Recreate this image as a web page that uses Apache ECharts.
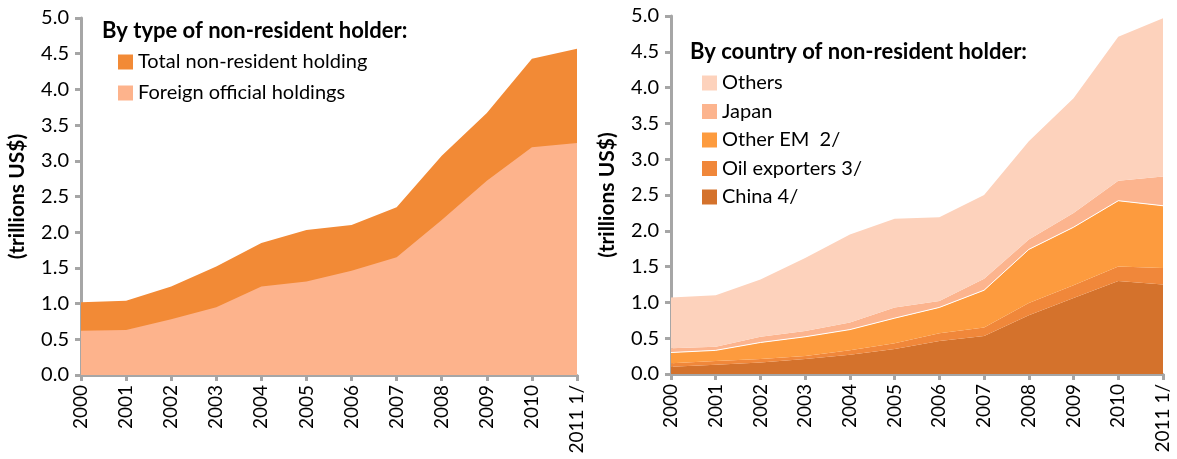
<!DOCTYPE html>
<html>
<head>
<meta charset="utf-8">
<script src="https://cdn.jsdelivr.net/npm/echarts@6/dist/echarts.min.js"></script>
<style>
  html, body { margin: 0; padding: 0; background: #fff; }
  #chart { width: 1177px; height: 459px; }
</style>
</head>
<body>
<div id="chart"></div>
<script>
// years on the x axis
const years = ['2000', '2001', '2002', '2003', '2004', '2005', '2006', '2007', '2008', '2009', '2010', '2011 1/'];

// left panel: by type of holder (trillions US$)
const totalNonResident = [1.02, 1.04, 1.24, 1.52, 1.85, 2.03, 2.10, 2.35, 3.07, 3.67, 4.43, 4.57];
const foreignOfficial = [0.62, 0.63, 0.78, 0.95, 1.24, 1.31, 1.46, 1.65, 2.17, 2.72, 3.19, 3.25];

// right panel: by country (stacked pieces, trillions US$)
const china = [0.10, 0.13, 0.16, 0.21, 0.27, 0.35, 0.46, 0.53, 0.82, 1.06, 1.30, 1.25];
const oilExporters = [0.05, 0.05, 0.05, 0.04, 0.06, 0.08, 0.11, 0.12, 0.17, 0.18, 0.20, 0.23];
const otherEM = [0.15, 0.15, 0.23, 0.27, 0.29, 0.35, 0.36, 0.52, 0.75, 0.81, 0.92, 0.87];
const japan = [0.06, 0.05, 0.08, 0.08, 0.10, 0.15, 0.09, 0.16, 0.14, 0.20, 0.28, 0.41];
const others = [0.71, 0.72, 0.80, 1.02, 1.23, 1.24, 1.17, 1.17, 1.37, 1.60, 2.01, 2.21];

const FONT = 'Lato';
const axisGray = '#a6a6a6';

function xAxisFor(gridIndex) {
  return {
    type: 'category',
    gridIndex: gridIndex,
    data: years,
    boundaryGap: false,
    axisLine: { lineStyle: { color: axisGray, width: 3 } },
    axisTick: { length: 6, lineStyle: { color: axisGray, width: 3 } },
    axisLabel: { rotate: 90, color: '#000', fontFamily: FONT, fontSize: 19, margin: 10, interval: 0 },
    splitLine: { show: false }
  };
}

function yAxisFor(gridIndex) {
  return {
    type: 'value',
    gridIndex: gridIndex,
    min: 0, max: 5, interval: 0.5,
    name: '(trillions US$)',
    nameLocation: 'middle',
    nameGap: 53,
    nameTextStyle: { color: '#000', fontFamily: FONT, fontSize: 21, fontWeight: 'bold' },
    axisLine: { show: true, lineStyle: { color: axisGray, width: 3 } },
    axisTick: { show: true, length: 6, lineStyle: { color: axisGray, width: 3 } },
    axisLabel: { color: '#000', fontFamily: FONT, fontSize: 20, margin: 12, formatter: v => v.toFixed(1) },
    splitLine: { show: false }
  };
}

function area(name, data, color, xi, stack, line) {
  return {
    name: name,
    type: 'line',
    xAxisIndex: xi, yAxisIndex: xi,
    data: data,
    stack: stack,
    symbol: 'none',
    smooth: false,
    lineStyle: line || { width: 0 },
    areaStyle: { color: color, opacity: 1 },
    itemStyle: { color: color },
    emphasis: { disabled: true }
  };
}

const legendText = { color: '#000', fontFamily: FONT, fontSize: 20 };

const option = {
  animation: false,
  title: [
    { text: 'By type of non-resident holder:', left: 97, top: 15,
      textStyle: { color: '#000', fontFamily: FONT, fontSize: 22, fontWeight: 'bold' } },
    { text: 'By country of non-resident holder:', left: 685, top: 36,
      textStyle: { color: '#000', fontFamily: FONT, fontSize: 22, fontWeight: 'bold' } }
  ],
  legend: [
    { data: ['Total non-resident holding', 'Foreign official holdings'],
      orient: 'vertical', left: 113, top: 47, icon: 'rect', itemWidth: 15, itemHeight: 15,
      itemGap: 11, textStyle: legendText, selectedMode: false },
    { data: ['Others', 'Japan', 'Other EM  2/', 'Oil exporters 3/', 'China 4/'],
      orient: 'vertical', left: 697, top: 68, icon: 'rect', itemWidth: 15, itemHeight: 15,
      itemGap: 8.5, textStyle: legendText, selectedMode: false }
  ],
  grid: [
    { left: 81, top: 18, width: 496, height: 357 },
    { left: 671, top: 16, width: 492, height: 358 }
  ],
  xAxis: [xAxisFor(0), xAxisFor(1)],
  yAxis: [yAxisFor(0), yAxisFor(1)],
  series: [
    area('Total non-resident holding', totalNonResident, '#f28a36', 0),
    area('Foreign official holdings', foreignOfficial, '#fdb38c', 0),
    area('China 4/', china, '#d4722c', 1, 'c'),
    area('Oil exporters 3/', oilExporters, '#f0873a', 1, 'c'),
    area('Other EM  2/', otherEM, '#fd9b3e', 1, 'c', { width: 1, color: '#ffffff' }),
    area('Japan', japan, '#fcb48e', 1, 'c'),
    area('Others', others, '#fdd2bc', 1, 'c')
  ]
};

echarts.init(document.getElementById('chart'), null, { renderer: 'canvas' }).setOption(option);
</script>
</body>
</html>
